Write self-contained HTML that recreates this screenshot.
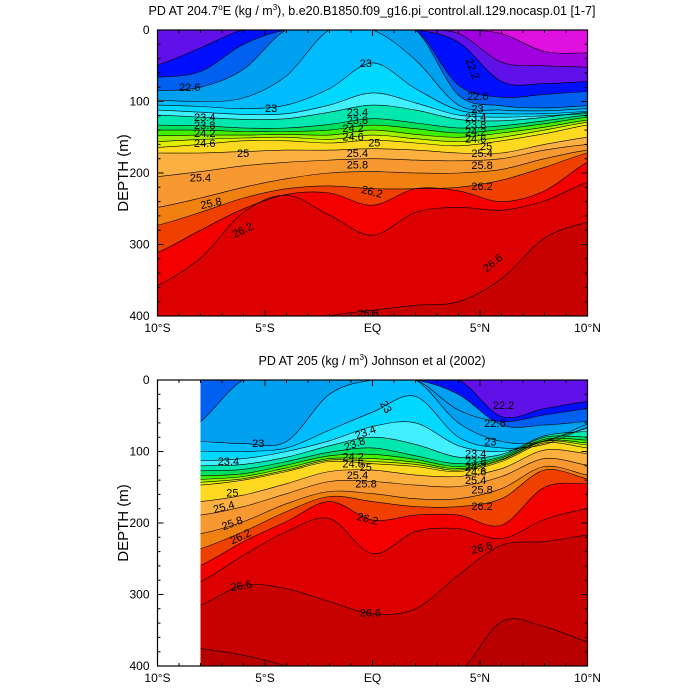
<!DOCTYPE html>
<html><head><meta charset="utf-8"><style>
html,body{margin:0;padding:0;background:#fff;}
svg{display:block;font-family:"Liberation Sans",sans-serif;}
</style></head><body>
<svg id="chart" width="700" height="700" viewBox="0 0 700 700" xmlns="http://www.w3.org/2000/svg">
<defs>
<clipPath id="clipTop"><rect x="157.5" y="30" width="430" height="286"/></clipPath>
<clipPath id="clipBot"><rect x="200.5" y="380" width="387" height="286"/></clipPath>
</defs>
<g id="top-panel"></g>
<g id="bot-panel"></g>
<text x="372" y="15" font-size="12.5" text-anchor="middle">PD AT 204.7<tspan dy="-5" font-size="8">o</tspan><tspan dy="5">E (kg / m</tspan><tspan dy="-5" font-size="8">3</tspan><tspan dy="5">), b.e20.B1850.f09_g16.pi_control.all.129.nocasp.01 [1-7]</tspan></text>
<text x="372" y="365" font-size="12.5" text-anchor="middle">PD AT 205 (kg / m<tspan dy="-5" font-size="8">3</tspan><tspan dy="5">) Johnson et al (2002)</tspan></text>
</svg>
<script>
// ---- data ----
const levels = [22.0,22.2,22.4,22.6,22.8,23.0,23.2,23.4,23.6,23.8,24.0,24.2,24.4,24.6,25.0,25.4,25.8,26.0,26.2,26.4,26.6,26.8];
const bandColors = ["#e010e0","#a000e0","#6010e8","#0010ff","#0060f0","#00a0f0","#00bcff","#00d8ff","#40f0ff","#00e8b0","#00e060","#40f000","#a0f000","#e0f000","#ffd820","#fcb040","#f89830","#f08010","#f04000","#f50000","#dd0000","#c80000","#b80000"];
const topLats = [-10,-8,-6,-4,-2,0,2,4,6,8,10];
const topDepths = [
 [0,0,0,0,0,0,0,0,5,30,32],
 [0,0,0,0,0,0,0,5,45,50,52],
 [49,25,0,0,0,0,0,17,72,75,72],
 [66,58,20,0,0,0,0,77,94,90,86],
 [85,80,55,0,0,0,0,91,106,109,106],
 [98,100,95,64,0,0,42,105,112,113,110],
 [105,107,110,105,82,46,82,112,117,117,114],
 [112,115,118,117,105,88,102,119,122,120,117],
 [119,122,125,124,115,105,112,125,127,122,115],
 [133,134,137,137,132,124,130,137,134,127,119],
 [140,140,142,142,140,133,138,144,139,131,122],
 [148,147,147,146,147,140,146,150,144,136,126],
 [156,153,151,150,153,147,152,156,150,140,129],
 [164,160,155,155,158,154,158,162,155,145,133],
 [172,172,170,168,168,166,168,172,172,160,150],
 [205,198,190,185,182,180,182,183,180,168,160],
 [248,235,220,208,200,198,200,200,195,180,168],
 [273,255,235,222,218,222,222,220,210,192,172],
 [311,280,250,230,228,245,222,225,240,225,185],
 [357,319,255,231,259,287,255,248,252,239,213],
 [430,430,430,420,400,392,385,380,348,291,269],
 [460,460,460,460,460,460,460,460,460,460,460]
];
const botLats = [-8,-6,-4,-2,0,2,4,6,8,10];
const botDepths = [
 [0,0,0,0,0,0,0,0,0,0],
 [0,0,0,0,0,0,0,0,0,0],
 [0,0,0,0,0,0,0,51,40,30],
 [0,0,0,0,0,0,42,58,49,40],
 [58,0,0,0,0,0,20,63,63,58],
 [86,89,86,20,0,0,60,86,86,62],
 [100,100,95,70,45,23,80,95,90,66],
 [113,110,100,85,65,60,92,100,85,68],
 [120,118,108,92,80,90,108,104,78,72],
 [127,125,114,101,95,106,117,107,80,80],
 [134,131,119,106,104,111,121,109,83,84],
 [139,135,123,110,110,115,124,111,85,88],
 [143,138,126,112,114,118,126,112,86,91],
 [147,140,128,114,117,121,128,114,88,95],
 [170,161,145,128,126,133,135,124,98,103],
 [189,177,159,142,142,147,149,135,110,119],
 [215,198,173,156,159,166,166,152,121,133],
 [236,212,184,163,170,177,177,166,126,138],
 [259,226,198,170,196,189,189,203,150,145],
 [282,245,212,194,243,212,208,222,195,180],
 [315,287,292,310,327,320,273,231,226,217],
 [376,385,400,420,420,420,410,338,345,366]
];
const xTickLabels = ["10\u00B0S","5\u00B0S","EQ","5\u00B0N","10\u00B0N"];
const xTickLats = [-10,-5,0,5,10];
const yTicks = [0,100,200,300,400];
const topLabels = [["22.6",-9,80,0],["23",-5,109,0],["23.4",-8.3,122,0],["23.8",-8.3,133,0],["24.2",-8.3,144,0],["24.6",-8.3,158,0],["25",-6.3,172,0],["25.4",-8.5,206,0],["25.8",-8,245,-12],["26.2",-6.5,286,-25],["23",-0.6,46,0],["23.4",-1.2,115,0],["23.8",-1.2,126,0],["24.2",-1.4,137,0],["24.6",-1.4,149,0],["25",-0.2,157,0],["25.4",-1.2,172,0],["25.8",-1.2,188,0],["26.2",-0.5,222,15],["22.2",4.5,40,70],["22.6",4.4,92,0],["23",4.6,110,0],["23.4",4.3,122,0],["23.8",4.3,132,0],["24.2",4.3,142,0],["24.6",4.3,152,0],["25",5,162,0],["25.4",4.6,172,0],["25.8",4.6,189,0],["26.2",4.6,218,0],["26.6",5.2,335,-40],["26.6",-0.7,396,0]];
const botLabels = [["23",-5.6,88,0],["23.4",-7.2,113,0],["25",-6.8,157,0],["25.4",-7.4,181,-15],["25.8",-7,205,-20],["26.2",-6.6,225,-25],["26.6",-6.6,290,-10],["23",0.5,30,60],["23.4",-0.8,78,-20],["23.8",-1.3,94,-20],["24.2",-1.4,107,0],["24.6",-1.4,117,0],["25",-0.6,122,0],["25.4",-1.2,133,0],["25.8",-0.8,145,0],["26.2",-0.7,190,15],["26.6",-0.6,325,0],["22.2",5.6,35,0],["22.6",5.2,60,0],["23",5.2,86,0],["23.4",4.3,103,0],["23.8",4.3,113,0],["24.2",4.3,121,0],["24.6",4.3,128,0],["25.4",4.3,140,0],["25.8",4.6,153,0],["26.2",4.6,176,0],["26.6",4.6,238,-15]];

// ---- drawing ----
const NS="http://www.w3.org/2000/svg";
const X0=157.5, W=430, H=286;
function xs(lat){return X0+(lat+10)/20*W;}
function el(tag,attrs,parent){const e=document.createElementNS(NS,tag);for(const k in attrs)e.setAttribute(k,attrs[k]);parent.appendChild(e);return e;}
function smooth(pts){
  let d="M"+pts[0][0].toFixed(1)+","+pts[0][1].toFixed(1);
  for(let i=0;i<pts.length-1;i++){
    const p0=pts[i-1]||pts[i],p1=pts[i],p2=pts[i+1],p3=pts[i+2]||pts[i+1];
    const c1=[p1[0]+(p2[0]-p0[0])/6,p1[1]+(p2[1]-p0[1])/6];
    const c2=[p2[0]-(p3[0]-p1[0])/6,p2[1]-(p3[1]-p1[1])/6];
    d+=" C"+c1[0].toFixed(1)+","+c1[1].toFixed(1)+" "+c2[0].toFixed(1)+","+c2[1].toFixed(1)+" "+p2[0].toFixed(1)+","+p2[1].toFixed(1);
  }
  return d;
}
function panel(g,Y0,lats,depths,clipId,labels,dataLeft){
  const ys=d=>Y0+Math.max(0,d)/400*H;
  const cg=el("g",{"clip-path":"url(#"+clipId+")"},g);
  const bg=el("rect",{x:dataLeft,y:Y0,width:X0+W-dataLeft,height:H,fill:bandColors[0]},cg);
  
  
  depths.forEach((row,i)=>{
    const pts=lats.map((la,j)=>[xs(la),ys(row[j])]);
    pts.unshift([pts[0][0]-20,pts[0][1]]);pts.push([pts[pts.length-1][0]+20,pts[pts.length-1][1]]);
    const line=smooth(pts);
    const f=el("path",{d:line+" L"+(X0+W+30)+","+(Y0+H+50)+" L"+(dataLeft-30)+","+(Y0+H+50)+" Z",fill:bandColors[i+1]},cg);
    
    
  });
  depths.forEach((row,i)=>{
    const pts=lats.map((la,j)=>[xs(la),ys(row[j])]);
    pts.unshift([pts[0][0]-20,pts[0][1]]);pts.push([pts[pts.length-1][0]+20,pts[pts.length-1][1]]);
    const c=el("path",{d:smooth(pts),fill:"none",stroke:"#000","stroke-width":0.6},cg);
    
    
  });
  labels.forEach(l=>{
    const x=xs(l[1]),y=ys(l[2]);
    const t=el("text",{x:x,y:y+4,"font-size":11,transform:"rotate("+l[3]+" "+x+" "+y+")"},cg);
    t.textContent=l[0];
    
    
  });
  const fr=el("rect",{x:X0,y:Y0,width:W,height:H,fill:"none",stroke:"#000","stroke-width":1.2},g);
  
  
  let td="";
  for(let la=-10;la<=10;la++){const x=xs(la);const L=(la%5===0)?6:3;td+="M"+x+","+(Y0+H)+"v"+(-L)+"M"+x+","+Y0+"v"+L;}
  for(let d=0;d<=400;d+=20){const y=ys(d);const L=(d%100===0)?6:3;td+="M"+X0+","+y+"h"+L+"M"+(X0+W)+","+y+"h"+(-L);}
  const tk=el("path",{d:td,stroke:"#000","stroke-width":1,fill:"none"},g);
  
  
  xTickLats.forEach((la,i)=>{
    const t=el("text",{x:xs(la),y:Y0+H+16,"font-size":12,"text-anchor":"middle"},g);
    t.textContent=xTickLabels[i];
    
    
  });
  yTicks.forEach(v=>{
    const t=el("text",{x:X0-8,y:ys(v)+4,"font-size":12,"text-anchor":"end"},g);
    t.textContent=v;
    
    
  });
  const yt=el("text",{x:128,y:Y0+H/2,"font-size":15,"text-anchor":"middle",transform:"rotate(-90 128 "+(Y0+H/2)+")"},g);
  yt.textContent="DEPTH (m)";
  
  
}
panel(document.getElementById("top-panel"),30,topLats,topDepths,"clipTop",topLabels,157.5);
panel(document.getElementById("bot-panel"),380,botLats,botDepths,"clipBot",botLabels,xs(-8));
</script>
</body></html>
